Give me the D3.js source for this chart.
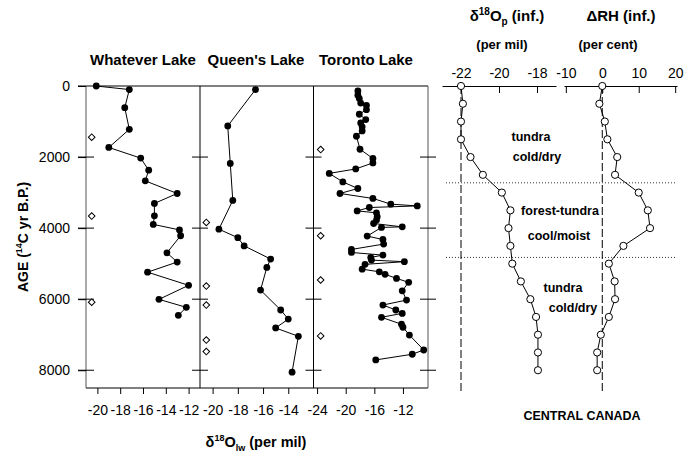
<!DOCTYPE html>
<html>
<head>
<meta charset="utf-8">
<script src="https://cdn.jsdelivr.net/npm/d3@7"></script>
<style>
body { margin: 0; background: #fff; }
text { font-family: "Liberation Sans", Arial, Helvetica, sans-serif; fill: #000; }
</style>
</head>
<body>
<div id="chart"></div>
<script>

// lake water d18O (per mil) vs age (14C yr B.P.)
var whateverAge = [0, 100, 610, 1220, 1730, 2030, 2370, 2670, 3025, 3305, 3655, 3895, 4050, 4215, 4695, 4955, 5240, 5610, 6005, 6230, 6455];
var whateverVal = [-20.1, -17.2, -17.6, -17.2, -19.0, -16.2, -15.5, -15.8, -13.0, -15.0, -15.0, -15.1, -12.8, -12.7, -13.9, -13.0, -15.6, -12.0, -14.6, -12.2, -12.9];
var whateverDiaAge = [1440, 3660, 6085];
var whateverDiaVal = [-20.5, -20.5, -20.5];

var queensAge = [100, 1125, 2180, 3220, 4030, 4270, 4500, 4870, 5105, 5745, 6305, 6560, 6810, 7045, 8055];
var queensVal = [-16.6, -18.8, -18.6, -18.4, -19.5, -18.0, -17.5, -15.4, -15.7, -16.2, -14.6, -14.0, -15.0, -13.2, -13.7];
var queensDiaAge = [3840, 5630, 6165, 7150, 7475];
var queensDiaVal = [-20.5, -20.5, -20.5, -20.5, -20.5];

var torontoAge = [140, 260, 355, 480, 545, 665, 795, 945, 1040, 1150, 1265, 1415, 1780, 2040, 2165, 2335, 2460, 2700, 2885, 3025,
  3165, 3325, 3375, 3420, 3515, 3570, 3680, 3775, 3870, 3965, 3980, 4225, 4320, 4450, 4600, 4685, 4760, 4825, 4900, 4945,
  5020, 5155, 5230, 5300, 5415, 5525, 5765, 6025, 6165, 6305, 6400, 6510, 6705, 6790, 7010, 7430, 7550, 7710];
var torontoVal = [-18.3, -18.3, -18.1, -17.9, -17.1, -17.1, -18.1, -17.2, -17.9, -17.7, -17.7, -18.5, -18.0, -16.2, -16.2, -18.6, -22.3, -20.4, -18.3, -20.8,
  -16.2, -13.7, -10.0, -16.7, -18.4, -15.7, -15.6, -15.7, -16.1, -12.1, -15.0, -17.0, -14.8, -14.7, -19.2, -19.2, -14.8, -16.5, -16.4, -11.8,
  -17.3, -17.7, -15.3, -14.5, -12.9, -11.2, -12.1, -11.5, -14.8, -13.0, -12.1, -15.0, -12.2, -12.0, -11.1, -9.1, -10.7, -15.8];
var torontoDiaAge = [1790, 4215, 5460, 7035];
var torontoDiaVal = [-23.5, -23.5, -23.5, -23.5];

// inferred precipitation d18O and relative humidity change, Central Canada
var infAge = [0, 500, 1000, 1500, 2000, 2500, 3000, 3500, 4000, 4500, 5000, 5500, 6000, 6500, 7000, 7500, 8000];
var d18OpVal = [-22.0, -21.9, -22.0, -22.0, -21.5, -20.85, -19.85, -19.4, -19.5, -19.4, -19.3, -18.85, -18.35, -18.05, -17.95, -17.95, -17.95];
var dRHVal = [0, -0.8, 0.7, 1.4, 4.1, 3.5, 10.0, 12.5, 13.1, 5.8, 1.8, 3.4, 3.5, 1.8, -0.4, -1.4, -1.4];
var zoneBounds = [2725, 4825];

// tick labels
var ageTicks = [0, 2000, 4000, 6000, 8000];
var whateverTicks = [-20, -18, -16, -14, -12];
var queensTicks = [-20, -18, -16, -14];
var torontoTicks = [-24, -20, -16, -12];
var d18OpTicks = [-22, -20, -18];
var dRHTicks = [-10, 0, 10, 20];

function pairs(a, v) { return a.map(function(d, i) { return {age: d, v: v[i]}; }); }

var svg = d3.select("#chart").append("svg")
    .attr("width", 690).attr("height", 454);

var y = d3.scaleLinear().domain([0, 8500]).range([86, 388]);

var panels = [
  {name: "Whatever Lake", left: 86, right: 200, domain: [-21, -11], ticks: whateverTicks, tx: 143,
   pts: pairs(whateverAge, whateverVal), dia: pairs(whateverDiaAge, whateverDiaVal)},
  {name: "Queen's Lake", left: 200, right: 313.5, domain: [-21, -12], ticks: queensTicks, tx: 256,
   pts: pairs(queensAge, queensVal), dia: pairs(queensDiaAge, queensDiaVal)},
  {name: "Toronto Lake", left: 313.5, right: 428, domain: [-24.5, -8.5], ticks: torontoTicks, tx: 366,
   pts: pairs(torontoAge, torontoVal), dia: pairs(torontoDiaAge, torontoDiaVal)}
];

// frame of the lake panels
svg.append("line").attr("x1", 78).attr("x2", 428).attr("y1", y(0)).attr("y2", y(0))
  .attr("stroke", "#000").attr("stroke-width", 1);
svg.append("line").attr("x1", 86).attr("x2", 428).attr("y1", y(8500)).attr("y2", y(8500))
  .attr("stroke", "#000").attr("stroke-width", 1);
[86, 200, 313.5, 428].forEach(function(xb, i) {
  svg.append("line").attr("x1", xb).attr("x2", xb).attr("y1", y(0)).attr("y2", y(8500))
    .attr("stroke", (i == 0 || i == 3) ? "#555" : "#000").attr("stroke-width", 1);
  svg.selectAll(null).data(ageTicks.slice(1)).enter().append("line")
    .attr("x1", xb - 8).attr("x2", xb + 8)
    .attr("y1", function(d) { return y(d); }).attr("y2", function(d) { return y(d); })
    .attr("stroke", "#000").attr("stroke-width", 1);
});

// Y axis
var yAx = svg.append("g").attr("transform", "translate(86,0)")
  .call(d3.axisLeft(y).tickValues(ageTicks).tickSize(8).tickPadding(8).tickFormat(function(d) { return d; }));
yAx.select(".domain").remove();
yAx.attr("font-size", 14);

// each lake panel
panels.forEach(function(p) {
  var x = d3.scaleLinear().domain(p.domain).range([p.left, p.right]);

  var ax = svg.append("g").attr("transform", "translate(0," + y(8500) + ")")
    .call(d3.axisBottom(x).tickValues(p.ticks).tickSize(6).tickPadding(11).tickFormat(function(d) { return d; }));
  ax.select(".domain").remove();
  ax.attr("font-size", 14);

  svg.append("text").attr("x", p.tx).attr("y", 65).attr("text-anchor", "middle")
    .attr("font-size", 15).attr("font-weight", "bold").text(p.name);

  svg.append("path").datum(p.pts)
    .attr("fill", "none").attr("stroke", "#000").attr("stroke-width", 1)
    .attr("d", d3.line().x(function(d) { return x(d.v); }).y(function(d) { return y(d.age); }));

  svg.selectAll(null).data(p.pts).enter().append("circle")
    .attr("cx", function(d) { return x(d.v); })
    .attr("cy", function(d) { return y(d.age); })
    .attr("r", 3.4).attr("fill", "#000");

  svg.selectAll(null).data(p.dia).enter().append("path")
    .attr("d", d3.symbol().type(d3.symbolSquare).size(22))
    .attr("transform", function(d) { return "translate(" + x(d.v) + "," + y(d.age) + ")rotate(45)"; })
    .attr("fill", "#fff").attr("stroke", "#000").attr("stroke-width", 1);
});

// axis titles
var yl = svg.append("text").attr("transform", "translate(28," + y(4250) + ")rotate(-90)")
  .attr("text-anchor", "middle").attr("font-size", 14).attr("font-weight", "bold");
yl.append("tspan").text("AGE (");
yl.append("tspan").attr("font-size", 9).attr("dy", -6).text("14");
yl.append("tspan").attr("dy", 6).text("C yr B.P.)");

var xl = svg.append("text").attr("x", 256).attr("y", 447)
  .attr("text-anchor", "middle").attr("font-size", 14.5).attr("font-weight", "bold");
xl.append("tspan").text("\u03b4");
xl.append("tspan").attr("font-size", 9).attr("dy", -6).text("18");
xl.append("tspan").attr("dy", 6).text("O");
xl.append("tspan").attr("font-size", 9).attr("dy", 4).text("lw");
xl.append("tspan").attr("dy", -4).text(" (per mil)");

// inferred panels
var xP = d3.scaleLinear().domain([-23, -17]).range([442, 556]);
var xR = d3.scaleLinear().domain([-10.5, 20.5]).range([564, 677]);

[[xP, d18OpTicks, -22, d18OpVal], [xR, dRHTicks, 0, dRHVal]].forEach(function(c) {
  var sc = c[0];
  var ax = svg.append("g").attr("transform", "translate(0," + y(0) + ")")
    .call(d3.axisTop(sc).tickValues(c[1]).tickSizeInner(-7).tickSizeOuter(0).tickPadding(8).tickFormat(function(d) { return d; }));
  ax.attr("font-size", 14);
  ax.select(".domain").attr("stroke-width", 1);

  svg.append("line").attr("x1", sc(c[2])).attr("x2", sc(c[2]))
    .attr("y1", y(0)).attr("y2", y(8600))
    .attr("stroke", "#000").attr("stroke-width", 1).attr("stroke-dasharray", "8,3");

  var pts = pairs(infAge, c[3]);
  svg.append("path").datum(pts)
    .attr("fill", "none").attr("stroke", "#000").attr("stroke-width", 1)
    .attr("d", d3.line().x(function(d) { return sc(d.v); }).y(function(d) { return y(d.age); }));
  svg.selectAll(null).data(pts).enter().append("circle")
    .attr("cx", function(d) { return sc(d.v); })
    .attr("cy", function(d) { return y(d.age); })
    .attr("r", 3.6).attr("fill", "#fff").attr("stroke", "#000").attr("stroke-width", 1);
});

// vegetation zone boundaries
svg.selectAll(null).data(zoneBounds).enter().append("line")
  .attr("x1", 446).attr("x2", 677)
  .attr("y1", function(d) { return y(d); }).attr("y2", function(d) { return y(d); })
  .attr("stroke", "#000").attr("stroke-width", 0.8).attr("stroke-dasharray", "1,2");

// titles of inferred panels
var t1 = svg.append("text").attr("x", 507).attr("y", 21)
  .attr("text-anchor", "middle").attr("font-size", 15).attr("font-weight", "bold");
t1.append("tspan").text("\u03b4");
t1.append("tspan").attr("font-size", 10).attr("dy", -6).text("18");
t1.append("tspan").attr("dy", 6).text("O");
t1.append("tspan").attr("font-size", 10).attr("dy", 4).text("p");
t1.append("tspan").attr("dy", -4).text(" (inf.)");

svg.append("text").attr("x", 621).attr("y", 21).attr("text-anchor", "middle")
  .attr("font-size", 15).attr("font-weight", "bold").text("\u0394RH (inf.)");
svg.append("text").attr("x", 502).attr("y", 49).attr("text-anchor", "middle")
  .attr("font-size", 13).attr("font-weight", "bold").text("(per mil)");
svg.append("text").attr("x", 608).attr("y", 49).attr("text-anchor", "middle")
  .attr("font-size", 13).attr("font-weight", "bold").text("(per cent)");

// zone labels
var zoneLabels = [
  ["tundra", 531, 141], ["cold/dry", 537, 161],
  ["forest-tundra", 560, 215], ["cool/moist", 559, 240],
  ["tundra", 563, 292], ["cold/dry", 573, 312],
  ["CENTRAL CANADA", 582, 420]
];
svg.selectAll(null).data(zoneLabels).enter().append("text")
  .attr("x", function(d) { return d[1]; })
  .attr("y", function(d) { return d[2]; })
  .attr("text-anchor", "middle").attr("font-size", 12.5).attr("font-weight", "bold")
  .text(function(d) { return d[0]; });

</script>
</body>
</html>
